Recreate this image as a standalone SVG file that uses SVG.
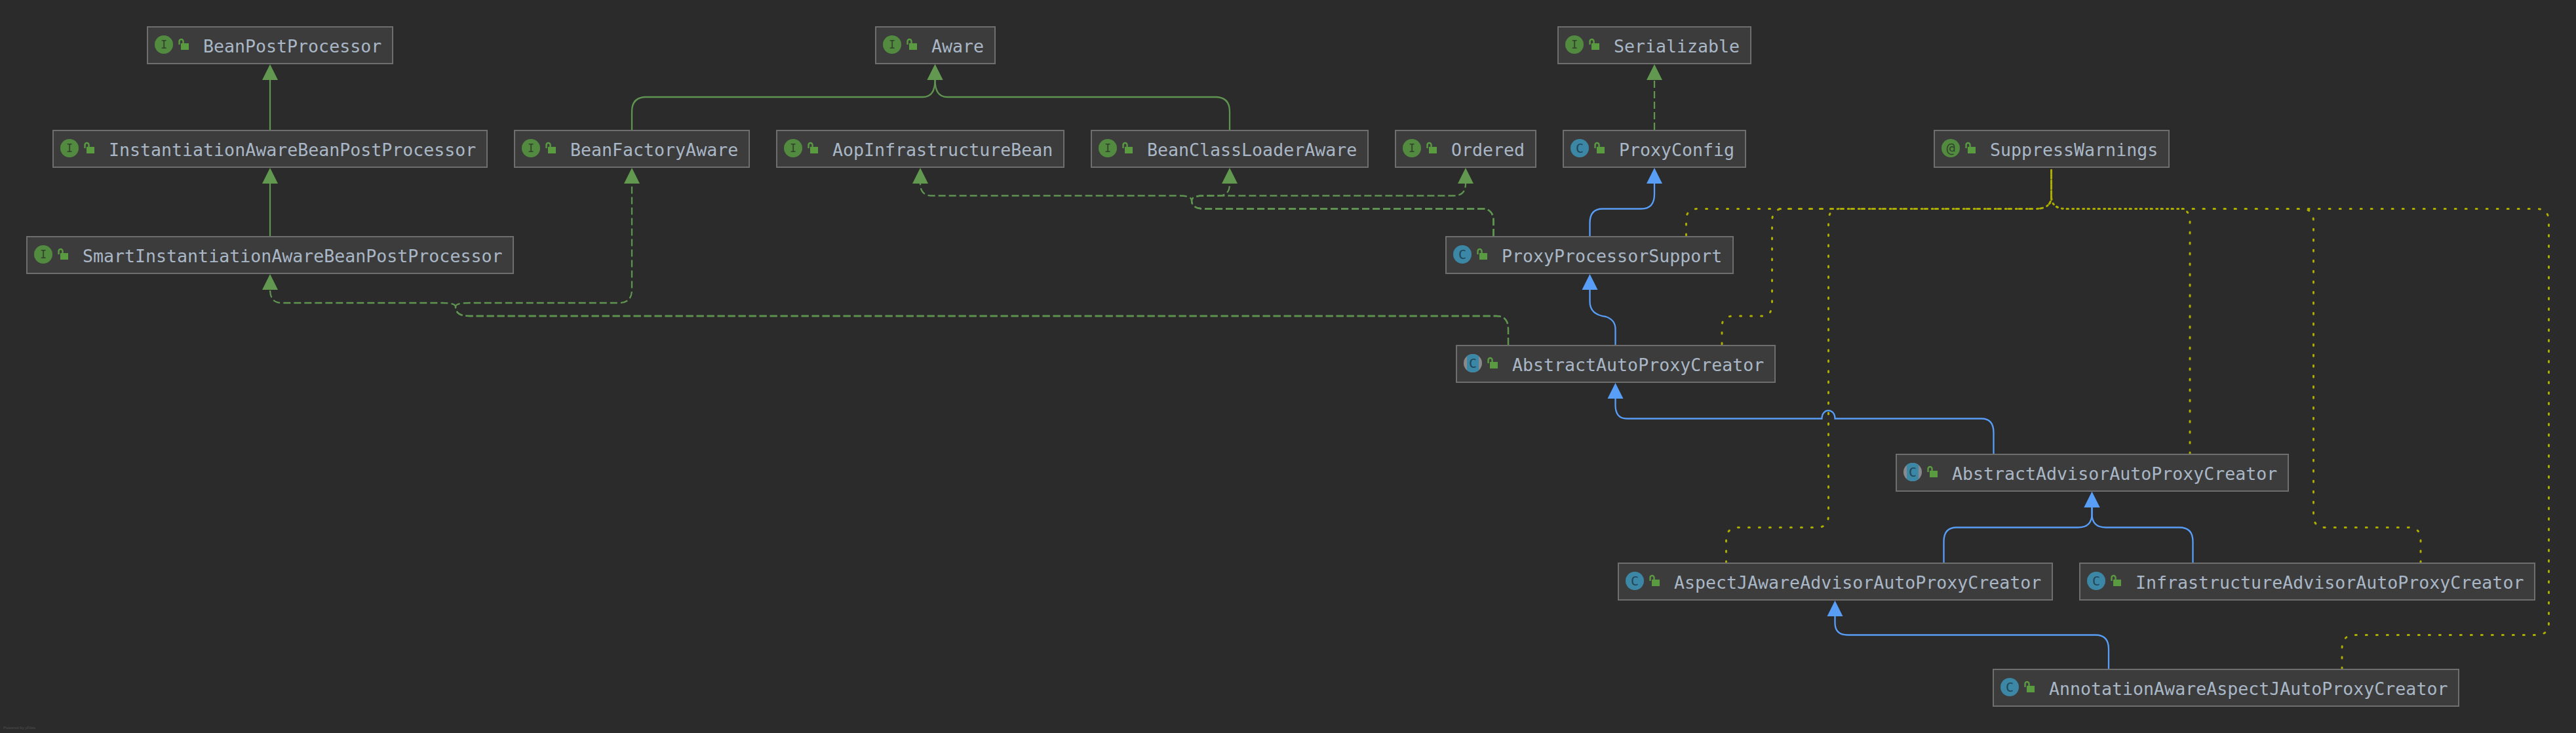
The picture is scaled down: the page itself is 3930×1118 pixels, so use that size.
<svg xmlns="http://www.w3.org/2000/svg" width="3930" height="1118" viewBox="0 0 3930 1118">
<style>
.bg{fill:#2b2b2b}
.box{fill:#3c3c3c;stroke:#6e6e6e;stroke-width:2}
.label{font-family:"DejaVu Sans Mono","Liberation Mono",monospace;font-size:26.6px;fill:#a9b7c6}
.glyph{font-family:"DejaVu Sans Mono","Liberation Mono",monospace;text-anchor:middle}
.gi{font-size:17px;fill:#30442b}
.gc{font-size:20px;fill:#1f4656}
.ga{font-size:22px;fill:#30442b}
.ii{fill:#528b3f}
.ic{fill:#3c87a5}
.ia{fill:#888a8d}
.lk{fill:#5a9a40}
.ls{fill:none;stroke:#5a9a40;stroke-width:2.4}
.e{fill:none;stroke-width:2.3}
.g{stroke:#5f9350}
.b{stroke:#589df6}
.d{stroke-dasharray:11 5}
.y{fill:none;stroke:#adad00;stroke-width:3;stroke-linecap:round;stroke-dasharray:2 14}
.pw{font-family:"Liberation Sans",Arial,sans-serif;font-size:6px;fill:#505050}
</style>
<defs>
<marker id="ag" markerUnits="userSpaceOnUse" markerWidth="25" markerHeight="25" refX="0" refY="12.500" orient="auto"><path d="M0 .5L24 12.500L0 24.500z" fill="#62984f"/></marker>
<marker id="ab" markerUnits="userSpaceOnUse" markerWidth="25" markerHeight="25" refX="0" refY="12.500" orient="auto"><path d="M0 .5L24 12.500L0 24.500z" fill="#589df6"/></marker>
<g id="lock"><rect class="lk" x="51" y="25" width="12" height="10"/><path class="ls" d="M48.500 27V22a3 3 0 0 1 6 0V25"/></g>
<clipPath id="band"><rect x="16" y="0" width="18" height="56"/></clipPath>
</defs>
<rect class="bg" width="3930" height="1118"/>
<g id="connectors">
<path class="e g" marker-end="url(#ag)" d="M412 198V122"/>
<path class="e g" marker-end="url(#ag)" d="M412 360V280"/>
<path class="e g" marker-end="url(#ag)" d="M964 198V170Q964 148 986 148H1408Q1426.5 148 1426.5 122"/>
<path class="e g" marker-end="url(#ag)" d="M1876 198V170Q1876 148 1854 148H1445Q1426.5 148 1426.5 122"/>
<path class="e g d" marker-end="url(#ag)" d="M2301 526V502Q2301 482 2283 482H716Q695 482 695 468Q695 462 716 462H944Q964 462 964 442V280"/>
<path class="e g d" marker-end="url(#ag)" d="M2301 526V502Q2301 482 2283 482H716Q695 482 695 468Q695 462 675 462H430Q412 462 412 442"/>
<path class="e g d" marker-end="url(#ag)" d="M2278.5 360V338Q2278.5 318.500 2262 318.500H1838Q1818 318.500 1818 306Q1818 298.500 1838 298.500H1860Q1876 298.500 1876 280"/>
<path class="e g d" marker-end="url(#ag)" d="M2278.5 360V338Q2278.500 318.500 2262 318.500H1838Q1818 318.500 1818 306Q1818 298.500 1798 298.500H1422Q1404 298.500 1404 280"/>
<path class="e g d" marker-end="url(#ag)" d="M2278.5 360V338Q2278.500 318.500 2262 318.500H1838Q1818 318.500 1818 306Q1818 298.500 1838 298.500H2218Q2236 298.500 2236 280"/>
<path class="e g d" marker-end="url(#ag)" d="M2524 198V122"/>
<path class="e b" marker-end="url(#ab)" d="M2425.500 360V340Q2425.500 318.500 2445 318.500H2504Q2524 318.500 2524 296V280"/>
<path class="e b" marker-end="url(#ab)" d="M2464.500 526V502Q2464.500 488 2450 483Q2425.500 480 2425.500 460V442"/>
<path class="e b" marker-end="url(#ab)" d="M3041.500 692V660Q3041.500 638.500 3023 638.500H2799.500C2799.500 622 2779.500 622 2779.500 638.500H2482Q2464.500 638.500 2464.500 618V608"/>
<path class="e b" marker-end="url(#ab)" d="M2965.500 858V826Q2965.500 804.500 2985 804.500H3170Q3191.500 804.500 3191.500 784V774"/>
<path class="e b" marker-end="url(#ab)" d="M3345.500 858V826Q3345.500 804.500 3325 804.500H3213Q3191.500 804.500 3191.500 784V774"/>
<path class="e b" marker-end="url(#ab)" d="M3217 1020V990Q3217 968.500 3197 968.500H2819Q2799.500 968.500 2799.500 950V940"/>
<path class="y" d="M2572.500 359V335Q2572.500 318.500 2590 318.500H3105Q3129.500 318.500 3129.500 300V257"/>
<path class="y" d="M2627 525V498Q2627 482 2645 482H2690Q2703.500 482 2703.500 462V338Q2703.500 318.500 2720 318.500H3105Q3129.500 318.500 3129.500 300V257"/>
<path class="y" d="M2633.500 858V824Q2633.500 804.500 2652 804.500H2772Q2789.500 804.500 2789.500 786V338Q2789.500 318.500 2806 318.500H3105Q3129.500 318.500 3129.500 300V257"/>
<path class="y" d="M3341 692V338Q3341 318.500 3325 318.500H3153Q3129.500 318.500 3129.500 300V257"/>
<path class="y" d="M3693 858V824Q3693 804.500 3675 804.500H3547Q3529.500 804.500 3529.500 786V338Q3529.500 318.500 3512 318.500H3153Q3129.500 318.500 3129.500 300V257"/>
<path class="y" d="M3573 1020V990Q3573 968.500 3592 968.500H3870Q3888.500 968.500 3888.500 950V338Q3888.500 318.500 3870 318.500H3153Q3129.500 318.500 3129.500 300V257"/>
</g>
<g id="n-beanpostprocessor" transform="translate(225,41)"><rect class="box" width="374" height="56"/><circle class="ii" cx="25" cy="27" r="14"/><text class="glyph gi" x="25" y="33">I</text><use href="#lock"/><text class="label" x="85" y="39">BeanPostProcessor</text></g>
<g id="n-instantiationaware" transform="translate(81,199)"><rect class="box" width="662" height="56"/><circle class="ii" cx="25" cy="27" r="14"/><text class="glyph gi" x="25" y="33">I</text><use href="#lock"/><text class="label" x="85" y="39">InstantiationAwareBeanPostProcessor</text></g>
<g id="n-smartinstantiationaware" transform="translate(41,361)"><rect class="box" width="742" height="56"/><circle class="ii" cx="25" cy="27" r="14"/><text class="glyph gi" x="25" y="33">I</text><use href="#lock"/><text class="label" x="85" y="39">SmartInstantiationAwareBeanPostProcessor</text></g>
<g id="n-beanfactoryaware" transform="translate(785,199)"><rect class="box" width="358" height="56"/><circle class="ii" cx="25" cy="27" r="14"/><text class="glyph gi" x="25" y="33">I</text><use href="#lock"/><text class="label" x="85" y="39">BeanFactoryAware</text></g>
<g id="n-aware" transform="translate(1336,41)"><rect class="box" width="182" height="56"/><circle class="ii" cx="25" cy="27" r="14"/><text class="glyph gi" x="25" y="33">I</text><use href="#lock"/><text class="label" x="85" y="39">Aware</text></g>
<g id="n-aopinfrastructurebean" transform="translate(1185,199)"><rect class="box" width="438" height="56"/><circle class="ii" cx="25" cy="27" r="14"/><text class="glyph gi" x="25" y="33">I</text><use href="#lock"/><text class="label" x="85" y="39">AopInfrastructureBean</text></g>
<g id="n-beanclassloaderaware" transform="translate(1665,199)"><rect class="box" width="422" height="56"/><circle class="ii" cx="25" cy="27" r="14"/><text class="glyph gi" x="25" y="33">I</text><use href="#lock"/><text class="label" x="85" y="39">BeanClassLoaderAware</text></g>
<g id="n-ordered" transform="translate(2129,199)"><rect class="box" width="214" height="56"/><circle class="ii" cx="25" cy="27" r="14"/><text class="glyph gi" x="25" y="33">I</text><use href="#lock"/><text class="label" x="85" y="39">Ordered</text></g>
<g id="n-serializable" transform="translate(2377,41)"><rect class="box" width="294" height="56"/><circle class="ii" cx="25" cy="27" r="14"/><text class="glyph gi" x="25" y="33">I</text><use href="#lock"/><text class="label" x="85" y="39">Serializable</text></g>
<g id="n-proxyconfig" transform="translate(2385,199)"><rect class="box" width="278" height="56"/><circle class="ic" cx="25" cy="27" r="14"/><text class="glyph gc" x="25" y="34">C</text><use href="#lock"/><text class="label" x="85" y="39">ProxyConfig</text></g>
<g id="n-suppresswarnings" transform="translate(2951,199)"><rect class="box" width="358" height="56"/><circle class="ii" cx="25" cy="27" r="14"/><text class="glyph ga" x="25" y="34">@</text><use href="#lock"/><text class="label" x="85" y="39">SuppressWarnings</text></g>
<g id="n-proxyprocessorsupport" transform="translate(2206,361)"><rect class="box" width="438" height="56"/><circle class="ic" cx="25" cy="27" r="14"/><text class="glyph gc" x="25" y="34">C</text><use href="#lock"/><text class="label" x="85" y="39">ProxyProcessorSupport</text></g>
<g id="n-abstractautoproxycreator" transform="translate(2222,527)"><rect class="box" width="486" height="56"/><circle class="ia" cx="25" cy="27" r="14"/><circle class="ic" cx="25" cy="27" r="14" clip-path="url(#band)"/><text class="glyph gc" x="25" y="34">C</text><use href="#lock"/><text class="label" x="85" y="39">AbstractAutoProxyCreator</text></g>
<g id="n-abstractadvisorautoproxycreator" transform="translate(2893,693)"><rect class="box" width="598" height="56"/><circle class="ia" cx="25" cy="27" r="14"/><circle class="ic" cx="25" cy="27" r="14" clip-path="url(#band)"/><text class="glyph gc" x="25" y="34">C</text><use href="#lock"/><text class="label" x="85" y="39">AbstractAdvisorAutoProxyCreator</text></g>
<g id="n-aspectjawareadvisorautoproxycreator" transform="translate(2469,859)"><rect class="box" width="662" height="56"/><circle class="ic" cx="25" cy="27" r="14"/><text class="glyph gc" x="25" y="34">C</text><use href="#lock"/><text class="label" x="85" y="39">AspectJAwareAdvisorAutoProxyCreator</text></g>
<g id="n-infrastructureadvisorautoproxycreator" transform="translate(3173,859)"><rect class="box" width="694" height="56"/><circle class="ic" cx="25" cy="27" r="14"/><text class="glyph gc" x="25" y="34">C</text><use href="#lock"/><text class="label" x="85" y="39">InfrastructureAdvisorAutoProxyCreator</text></g>
<g id="n-annotationawareaspectjautoproxycreator" transform="translate(3041,1021)"><rect class="box" width="710" height="56"/><circle class="ic" cx="25" cy="27" r="14"/><text class="glyph gc" x="25" y="34">C</text><use href="#lock"/><text class="label" x="85" y="39">AnnotationAwareAspectJAutoProxyCreator</text></g>
<text class="pw" x="5" y="1112">Powered by yFiles</text>
</svg>
